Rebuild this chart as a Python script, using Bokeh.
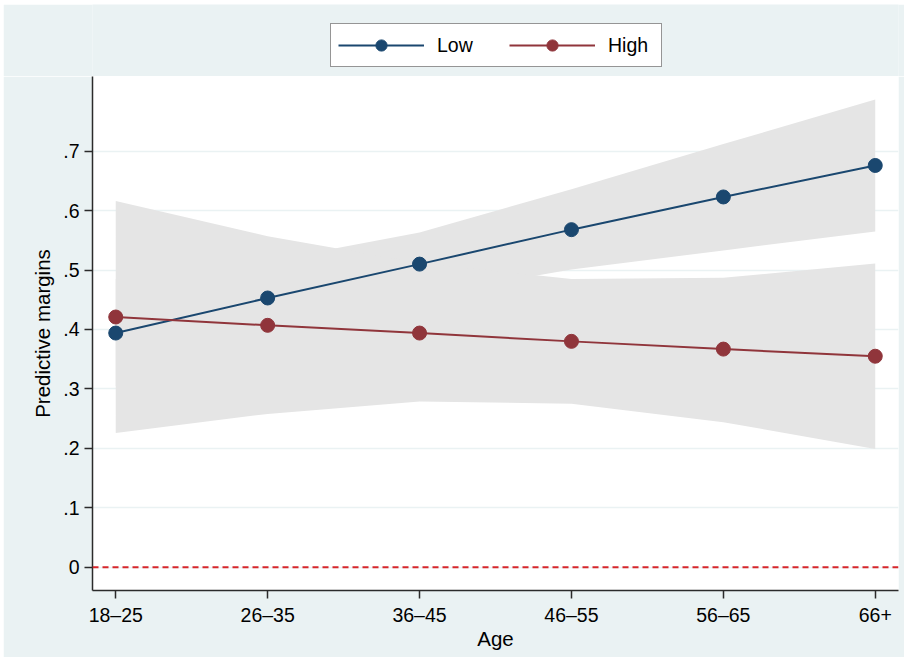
from bokeh.plotting import figure
from bokeh.layouts import column
from bokeh.models import (Range1d, FixedTicker, Span, Legend, LegendItem,
                          ColumnDataSource)
from bokeh.embed import file_html
from bokeh.resources import INLINE

# ---- data ----
age_groups = ["18–25", "26–35", "36–45", "46–55", "56–65", "66+"]
low_margin = [0.394, 0.453, 0.510, 0.568, 0.623, 0.676]
low_upper = [0.485, 0.515, 0.563, 0.636, 0.712, 0.787]
low_lower = [0.305, 0.390, 0.457, 0.501, 0.533, 0.565]
high_margin = [0.421, 0.407, 0.394, 0.380, 0.367, 0.355]
high_upper = [0.616, 0.557, 0.512, 0.485, 0.487, 0.511]
high_lower = [0.226, 0.258, 0.279, 0.275, 0.244, 0.199]
y_ticks = [0, 0.1, 0.2, 0.3, 0.4, 0.5, 0.6, 0.7]
y_tick_labels = ["0", ".1", ".2", ".3", ".4", ".5", ".6", ".7"]
series_names = ["Low", "High"]
ref_line = 0

xs = list(range(len(age_groups)))

FONT = "Liberation Sans"
BG = "#EAF2F3"
LOW_C = "#1A476F"
HIGH_C = "#90353B"
BAND_C = "#E5E5E5"
AX_C = "#2b2b2b"

# ---------- main plot ----------
p = figure(width=901, height=581, output_backend="svg", toolbar_location=None,
           x_range=Range1d(-0.153, 5.153), y_range=Range1d(-0.0392, 0.8257),
           min_border_left=89, min_border_right=6, min_border_top=0,
           min_border_bottom=67)
p.background_fill_color = "white"
p.border_fill_color = BG
p.outline_line_color = None

src = ColumnDataSource(dict(x=xs, low=low_margin, lu=low_upper, ll=low_lower,
                            high=high_margin, hu=high_upper, hl=high_lower))

p.varea(x="x", y1="ll", y2="lu", source=src, fill_color=BAND_C, fill_alpha=1)
p.varea(x="x", y1="hl", y2="hu", source=src, fill_color=BAND_C, fill_alpha=1)

p.add_layout(Span(location=ref_line, dimension="width", line_color="#D7262B",
                  line_width=2, line_dash="6 4"))

p.line(x="x", y="low", source=src, line_color=LOW_C, line_width=2)
p.scatter(x="x", y="low", source=src, size=14, fill_color=LOW_C,
          line_color=LOW_C)
p.line(x="x", y="high", source=src, line_color=HIGH_C, line_width=2)
p.scatter(x="x", y="high", source=src, size=14, fill_color=HIGH_C,
          line_color=HIGH_C)

p.xaxis.ticker = FixedTicker(ticks=xs)
p.xaxis.major_label_overrides = {i: lab for i, lab in zip(xs, age_groups)}
p.yaxis.ticker = FixedTicker(ticks=y_ticks)
p.yaxis.major_label_overrides = {t: lab for t, lab in zip(y_ticks, y_tick_labels)}
p.xaxis.axis_label = "Age"
p.yaxis.axis_label = "Predictive margins"
for ax in (p.xaxis, p.yaxis):
    ax.axis_line_color = AX_C
    ax.axis_line_width = 1.5
    ax.major_tick_line_color = AX_C
    ax.major_tick_line_width = 1.5
    ax.major_tick_out = 8
    ax.major_tick_in = 0
    ax.minor_tick_line_color = None
    ax.major_label_text_font = FONT
    ax.major_label_text_font_size = "19.5px"
    ax.major_label_text_color = "black"
    ax.major_label_standoff = 5
    ax.axis_label_text_font = FONT
    ax.axis_label_text_font_size = "20.5px"
    ax.axis_label_text_font_style = "normal"
    ax.axis_label_text_color = "black"
p.xaxis.axis_label_standoff = -2
p.yaxis.axis_label_standoff = 6
p.yaxis.major_label_orientation = "horizontal"

p.xgrid.grid_line_color = None
p.ygrid.ticker = FixedTicker(ticks=y_ticks)
p.ygrid.grid_line_color = BG
p.ygrid.grid_line_width = 1.5

# ---------- legend strip ----------
lg = figure(width=901, height=72, output_backend="svg", toolbar_location=None,
            x_axis_type=None, y_axis_type=None,
            x_range=Range1d(0, 1), y_range=Range1d(0, 1),
            min_border_left=0, min_border_right=0, min_border_top=0,
            min_border_bottom=0)
lg.background_fill_color = BG
lg.border_fill_color = BG
lg.outline_line_color = None
lg.xgrid.grid_line_color = None
lg.ygrid.grid_line_color = None

items = []
for name, col in zip(series_names, [LOW_C, HIGH_C]):
    empty = ColumnDataSource(dict(x=[float("nan")], y=[float("nan")]))
    lr = lg.line(x="x", y="y", source=empty, line_color=col, line_width=2)
    sr = lg.scatter(x="x", y="y", source=empty, size=14, fill_color=col,
                    line_color=col)
    items.append(LegendItem(label=name, renderers=[lr, sr]))

legend = Legend(items=items, orientation="horizontal", location=(238, 9))
legend.glyph_width = 86
legend.glyph_height = 28
legend.label_standoff = 13
legend.label_width = 46
legend.spacing = 26
legend.padding = 7
legend.margin = 0
legend.label_text_font = FONT
legend.label_text_font_size = "19.5px"
legend.label_text_color = "black"
legend.border_line_color = AX_C
legend.border_line_width = 1.5
legend.background_fill_color = "white"
legend.background_fill_alpha = 1
lg.add_layout(legend, "center")

layout = column(lg, p, spacing=0, margin=(4, 0, 0, 3))
open("out.html", "w").write(file_html(layout, INLINE))
